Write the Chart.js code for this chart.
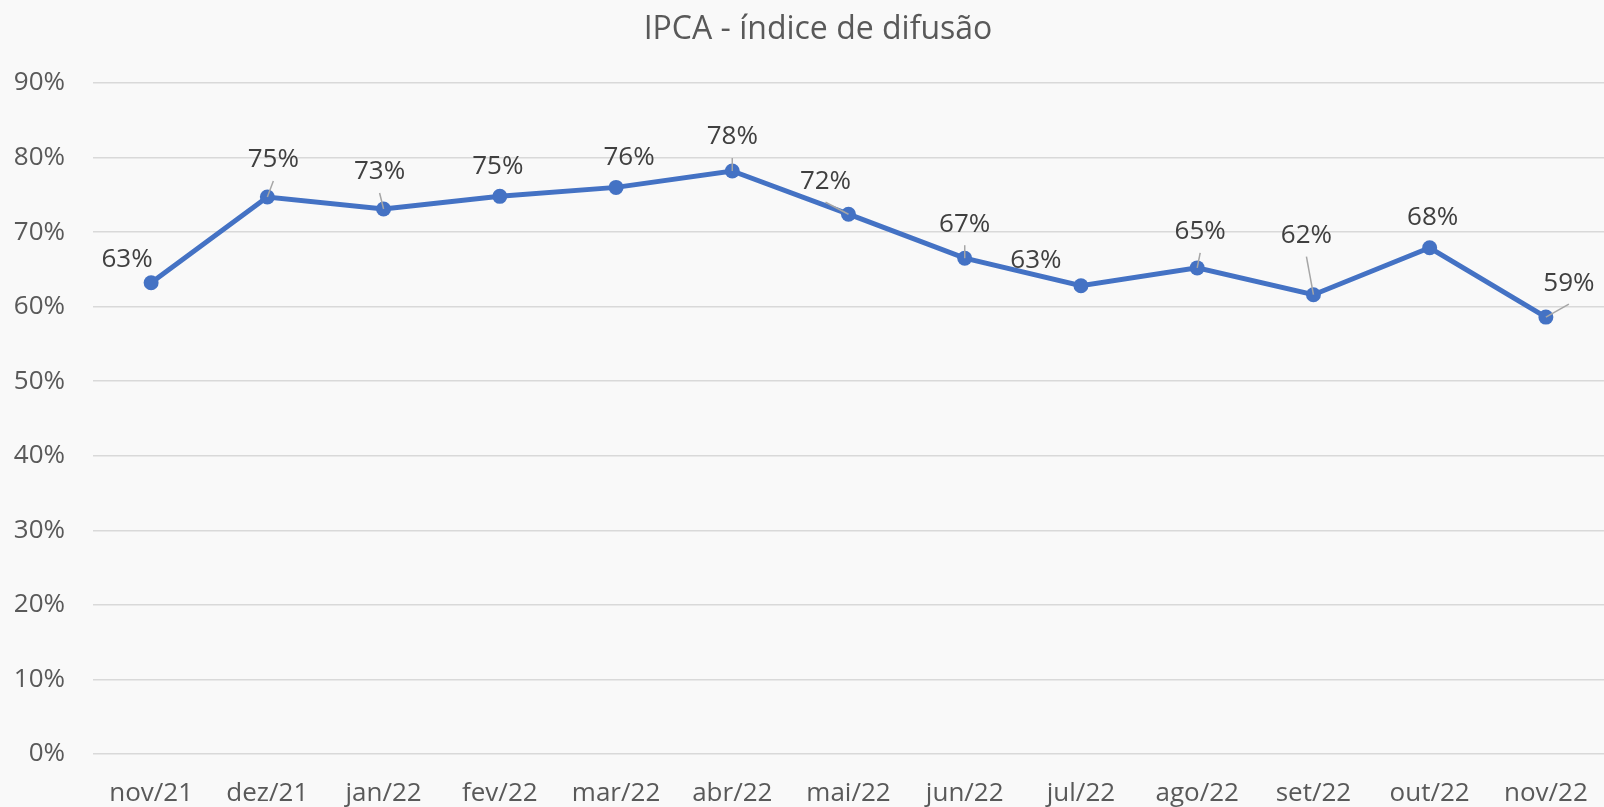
<!DOCTYPE html>
<html>
<head>
<meta charset="utf-8">
<script src="https://cdn.jsdelivr.net/npm/chart.js@4"></script>
<style>
  html, body { margin: 0; padding: 0; background: #f9f9f9; overflow: hidden; }
  #wrap { width: 1604px; height: 807px; }
  canvas { display: block; }
</style>
</head>
<body>
<div id="wrap"><canvas id="ipca" width="1604" height="807"></canvas></div>
<script>
// dados
var titulo = 'IPCA - índice de difusão';
var meses = ["nov/21", "dez/21", "jan/22", "fev/22", "mar/22", "abr/22", "mai/22",
             "jun/22", "jul/22", "ago/22", "set/22", "out/22", "nov/22"];
var difusao = [63.2, 74.7, 73.1, 74.8, 76.0, 78.2, 72.4, 66.5, 62.8, 65.2, 61.6, 67.9, 58.6];
var yTicks = [0, 10, 20, 30, 40, 50, 60, 70, 80, 90];

// posição dos rótulos (deslocamento em px a partir do ponto) e linhas de chamada
var rotuloDesloc = [[-24, -23], [6, -37], [-4, -37], [-2, -30], [13, -30], [0, -34], [-23, -33],
                    [0, -34], [-45, -25], [3, -36], [-7, -59], [3, -30], [23, -34]];
var temChamada = [false, true, true, false, false, true, true, true, false, true, true, false, true];

var fonte = "'Open Sans', 'Noto Sans', sans-serif";

// plugin simples para os rótulos de dados
var rotulos = {
  id: 'rotulos',
  afterDatasetsDraw: function (chart) {
    var ctx = chart.ctx;
    var meta = chart.getDatasetMeta(0);
    ctx.save();
    meta.data.forEach(function (pt, i) {
      var lx = pt.x + rotuloDesloc[i][0];
      var ly = pt.y + rotuloDesloc[i][1];
      if (temChamada[i]) {
        ctx.strokeStyle = '#a6a6a6';
        ctx.lineWidth = 1.5;
        ctx.beginPath();
        ctx.moveTo(lx, ly + 21);
        ctx.lineTo(pt.x, pt.y);
        ctx.stroke();
      }
      ctx.fillStyle = '#404040';
      ctx.font = '26px ' + fonte;
      ctx.textAlign = 'center';
      ctx.textBaseline = 'middle';
      ctx.fillText(Math.round(difusao[i]) + '%', lx, ly);
    });
    ctx.restore();
  }
};

// fundo e título (o título do Excel fica um pouco à direita do centro)
var fundo = {
  id: 'fundo',
  beforeDraw: function (chart) {
    var ctx = chart.ctx;
    ctx.save();
    ctx.fillStyle = '#f9f9f9';
    ctx.fillRect(0, 0, chart.width, chart.height);
    ctx.fillStyle = '#595959';
    ctx.font = '32px ' + fonte;
    ctx.textAlign = 'center';
    ctx.textBaseline = 'middle';
    ctx.fillText(titulo, 818, 30);
    ctx.restore();
  }
};

var ctx = document.getElementById('ipca').getContext('2d');
var grafico = new Chart(ctx, {
  type: 'line',
  data: {
    labels: meses,
    datasets: [{
      label: 'Difusão',
      data: difusao,
      borderColor: '#4472c4',
      backgroundColor: '#4472c4',
      borderWidth: 5,
      pointRadius: 7.5,
      pointHoverRadius: 7.5,
      pointBorderWidth: 0,
      tension: 0
    }]
  },
  options: {
    responsive: false,
    animation: false,
    layout: { autoPadding: false, padding: { left: 0, right: 0, top: 83, bottom: 0 } },
    plugins: {
      legend: { display: false },
      tooltip: { enabled: false },
      title: { display: false }
    },
    scales: {
      x: {
        offset: true,
        grid: { display: false },
        border: { display: false },
        ticks: {
          color: '#595959',
          font: { family: fonte, size: 26 },
          padding: 16,
          maxRotation: 0,
          autoSkip: false
        },
        afterFit: function (s) {
          s.height = 53;
          s.paddingLeft = 0;
          s.paddingRight = 0;
        }
      },
      y: {
        min: 0,
        max: 90,
        afterBuildTicks: function (s) { s.ticks = yTicks.map(function (v) { return { value: v }; }); },
        grid: { color: '#d9d9d9', lineWidth: 1.5, drawTicks: false },
        border: { display: false },
        ticks: {
          color: '#595959',
          font: { family: fonte, size: 26 },
          padding: 28,
          callback: function (v) { return v + '%'; }
        },
        afterFit: function (s) {
          s.width = 93;
          s.paddingTop = 0;
          s.paddingBottom = 0;
        }
      }
    }
  },
  plugins: [fundo, rotulos]
});
</script>
</body>
</html>
